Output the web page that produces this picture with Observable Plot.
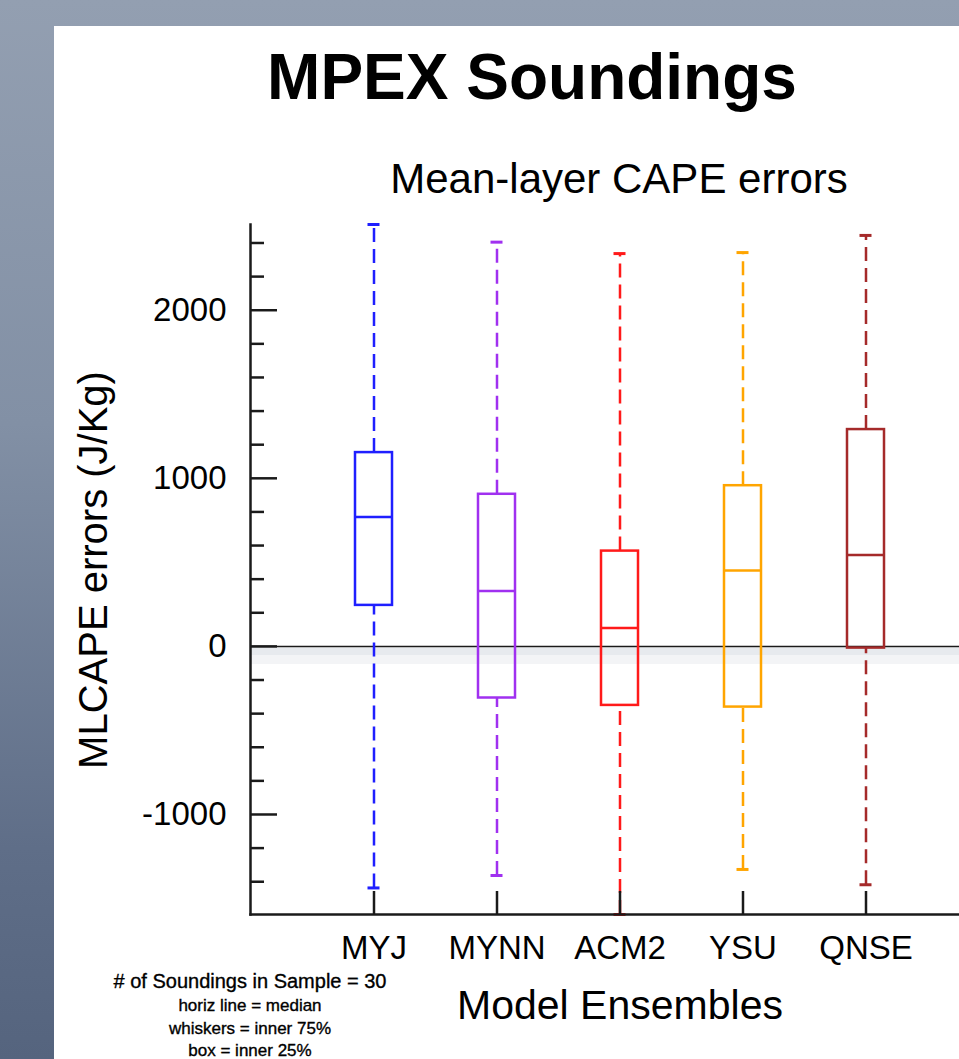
<!DOCTYPE html>
<html><head><meta charset="utf-8">
<script src="https://cdn.jsdelivr.net/npm/d3@7"></script>
<script src="https://cdn.jsdelivr.net/npm/@observablehq/plot@0.6"></script>
<style>
html,body{margin:0;padding:0;width:959px;height:1059px;overflow:hidden;}
body{position:relative;background:linear-gradient(to bottom,#939fb1 0%,#8290a5 40%,#5f6e88 80%,#55647e 100%);font-family:"Liberation Sans",Arial,Helvetica,sans-serif;}
#panel{position:absolute;left:54px;top:26px;width:905px;height:1033px;background:#fff;overflow:hidden;}
#panel svg{position:absolute;left:0;top:0;max-width:none !important;width:960px;height:1033px;}
.t{position:absolute;white-space:nowrap;line-height:1;color:#000;transform:translateX(-50%);}
.n{-webkit-text-stroke:0.35px #000;}
</style></head><body>
<div id="panel"></div>
<div class="t" style="left:532px;top:45px;font-size:64px;font-weight:bold;">MPEX Soundings</div>
<div class="t" style="left:619px;top:157.5px;font-size:42px;">Mean-layer CAPE errors</div>
<div class="t" style="left:620px;top:984.5px;font-size:41px;">Model Ensembles</div>
<div class="t" style="left:93px;top:570px;font-size:40px;transform:translate(-50%,-50%) rotate(-90deg);">MLCAPE errors (J/Kg)</div>
<div class="t n" style="left:250px;top:970.5px;font-size:20px;">&#35; of Soundings in Sample = 30</div>
<div class="t n" style="left:250px;top:997px;font-size:17px;">horiz line = median</div>
<div class="t n" style="left:250px;top:1020px;font-size:17px;">whiskers = inner 75%</div>
<div class="t n" style="left:250px;top:1042px;font-size:17px;">box = inner 25%</div>
<script>
const categories = ["MYJ", "MYNN", "ACM2", "YSU", "QNSE"];
const colors = ["#1f1fff", "#a030f0", "#ff1a1a", "#ffa500", "#a52a2a"];
const whiskerLow = [-1437, -1363, -1595, -1327, -1418];
const boxLow = [244, -307, -351, -361, -10];
const median = [770, 329, 109, 452, 544];
const boxHigh = [1153, 905, 567, 956, 1290];
const whiskerHigh = [2510, 2405, 2337, 2343, 2445];
const yMajorTicks = [-1000, 0, 1000, 2000];
const yMinorTicks = [-1400, -1200, -800, -600, -400, -200, 200, 400, 600, 800, 1200, 1400, 1600, 1800, 2200, 2400];

const rows = categories.map((c, i) => ({
  model: c, color: colors[i], lo: whiskerLow[i], q1: boxLow[i],
  med: median[i], q3: boxHigh[i], hi: whiskerHigh[i]
}));

const ink = "#1a1a1a";
const chart = Plot.plot({
  width: 960, height: 1033,
  marginTop: 198, marginBottom: 145, marginLeft: 196, marginRight: 26,
  style: {background: "transparent", fontFamily: "'Liberation Sans', Arial, Helvetica, sans-serif", color: "#000", overflow: "visible", maxWidth: "none"},
  x: {type: "band", domain: categories, paddingInner: 0.7, paddingOuter: 0.85, axis: null},
  y: {domain: [d3.min(whiskerLow), d3.max(whiskerHigh)], axis: null},
  color: {type: "identity"},
  marks: [
    Plot.ruleY([0], {stroke: "#e7eaee", strokeWidth: 8, dy: 5}),
    Plot.ruleY([0], {stroke: "#f3f4f6", strokeWidth: 9, dy: 13}),
    Plot.ruleY([0], {stroke: ink, strokeWidth: 1.5}),
    Plot.ruleX(rows, {x: "model", y1: "q3", y2: "hi", stroke: "color", strokeWidth: 2.5, strokeDasharray: "14,7"}),
    Plot.ruleX(rows, {x: "model", y1: "lo", y2: "q1", stroke: "color", strokeWidth: 2.5, strokeDasharray: "14,7"}),
    Plot.tickY(rows, {x: "model", y: "hi", stroke: "color", strokeWidth: 3, insetLeft: 12.5, insetRight: 12.5}),
    Plot.tickY(rows, {x: "model", y: "lo", stroke: "color", strokeWidth: 3, insetLeft: 12.5, insetRight: 12.5}),
    Plot.barY(rows, {x: "model", y1: "q1", y2: "q3", fill: "none", stroke: "color", strokeWidth: 2.5}),
    Plot.tickY(rows, {x: "model", y: "med", stroke: "color", strokeWidth: 2.5}),
    Plot.axisY(yMinorTicks, {anchor: "right", frameAnchor: "left", tickSize: 13, tickFormat: () => "", label: null, stroke: ink, strokeWidth: 2.5}),
    Plot.axisY(yMajorTicks, {anchor: "right", frameAnchor: "left", tickSize: 26, tickFormat: () => "", label: null, stroke: ink, strokeWidth: 2.5}),
    Plot.axisY(yMajorTicks, {anchor: "left", tickSize: 0, tickPadding: 24, fontSize: 33, tickFormat: d => String(d), label: null, fill: "#000"}),
    Plot.axisX(categories, {anchor: "top", frameAnchor: "bottom", tickSize: 24, tickFormat: () => "", label: null, stroke: ink, strokeWidth: 2.5}),
    Plot.axisX(categories, {anchor: "bottom", tickSize: 0, tickPadding: 21, fontSize: 33, label: null, fill: "#000"}),
    Plot.frame({anchor: "left", stroke: ink, strokeWidth: 2.5}),
    Plot.frame({anchor: "bottom", stroke: ink, strokeWidth: 2.5})
  ]
});
document.getElementById("panel").appendChild(chart);
</script>
</body></html>
